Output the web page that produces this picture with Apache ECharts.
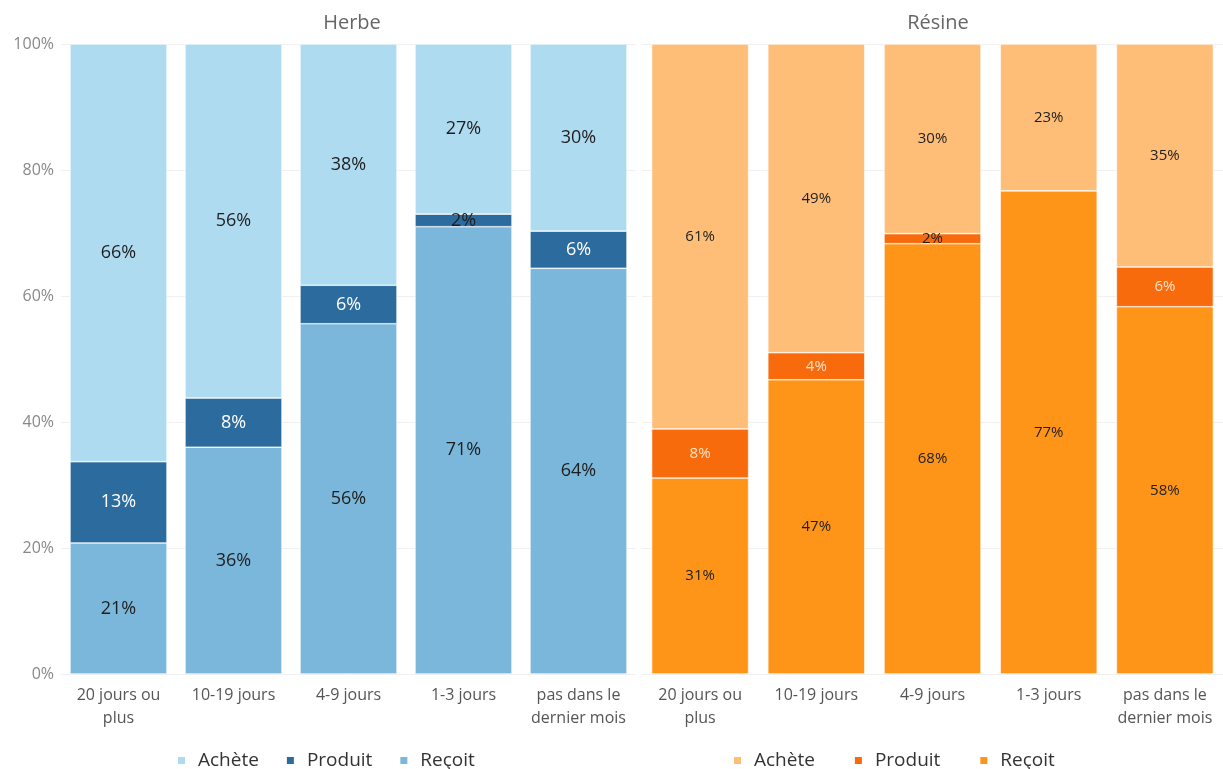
<!DOCTYPE html>
<html><head><meta charset="utf-8">
<script src="https://cdn.jsdelivr.net/npm/echarts@6/dist/echarts.min.js"></script>
<style>html,body{margin:0;padding:0;background:#fff}#c{width:1223px;height:769px}</style>
</head><body><div id="c"></div>
<script>
const categories = ['20 jours ou\nplus', '10-19 jours', '4-9 jours', '1-3 jours', 'pas dans le\ndernier mois'];
const yTicks = [0, 20, 40, 60, 80, 100];
const segments = ['Achète', 'Produit', 'Reçoit'];
// Herbe (cannabis herb)
const herbeRecoit  = [20.8, 36.0, 55.6, 71.0, 64.4];
const herbeProduit = [12.9, 7.8, 6.1, 2.0, 5.9];
const herbeAchete  = [66.3, 56.2, 38.3, 27.0, 29.7];
// Résine (cannabis resin)
const resineRecoit  = [31.1, 46.7, 68.3, 76.7, 58.3];
const resineProduit = [7.8, 4.3, 1.6, 0, 6.3];
const resineAchete  = [61.1, 49.0, 30.1, 23.3, 35.4];

const C = {
  herbe: {Achète: '#aedbf0', Produit: '#2c6b9e', Reçoit: '#7bb7da'},
  resine: {Achète: '#ffbe78', Produit: '#f86b0c', Reçoit: '#ff9518'}
};

function mk(group, seg, vals, gi, fs, lightColor) {
  return {
    name: group + '|' + seg,
    type: 'bar', stack: group, xAxisIndex: gi, yAxisIndex: gi,
    barWidth: 97,
    itemStyle: {color: C[group === 'Herbe' ? 'herbe' : 'resine'][seg], borderColor: '#ffffff', borderWidth: 0.6},
    label: {
      show: true, position: 'inside', fontSize: fs, fontFamily: 'Open Sans',
      color: '#1e1e1e',
      formatter: p => p.value > 0 ? Math.round(p.value) + '%' : ''
    },
    data: vals.map(v => (seg === 'Produit' && v >= 3) ? {value: v, label: {color: lightColor}} : v)
  };
}

const chart = echarts.init(document.getElementById('c'));
const yAxisBase = (gi, show) => ({
  type: 'value', gridIndex: gi, min: yTicks[0], max: yTicks[yTicks.length - 1], interval: 20,
  axisLabel: {show: show, formatter: '{value}%', color: '#888', fontSize: 16, fontFamily: 'Open Sans', margin: 7},
  axisLine: {show: false}, axisTick: {show: false},
  splitLine: {show: true, lineStyle: {color: '#f0f0f0', width: 1}}
});
const xAxisBase = gi => ({
  type: 'category', gridIndex: gi, data: categories,
  axisLine: {show: false}, axisTick: {show: false},
  axisLabel: {color: '#555', fontSize: 16, fontFamily: 'Open Sans', lineHeight: 23, margin: 10, interval: 0}
});
const legendBase = (left, group, gap) => ({
  left: left, top: 746,
  itemWidth: 9, itemHeight: 9, itemGap: gap,
  icon: 'rect',
  textStyle: {fontSize: 19, color: '#333', fontFamily: 'Open Sans', padding: [0, 0, 0, 7]},
  formatter: n => n.split('|')[1],
  data: segments.map(s => group + '|' + s),
  selectedMode: false
});

chart.setOption({
  animation: false,
  title: [
    {text: 'Herbe', left: 347, top: 8, textAlign: 'center', textStyle: {fontSize: 20, fontWeight: 'normal', color: '#666', fontFamily: 'Open Sans'}},
    {text: 'Résine', left: 933, top: 8, textAlign: 'center', textStyle: {fontSize: 20, fontWeight: 'normal', color: '#666', fontFamily: 'Open Sans'}}
  ],
  grid: [
    {left: 61, width: 575, top: 44, bottom: 95},
    {left: 642, width: 585, top: 44, bottom: 95}
  ],
  xAxis: [xAxisBase(0), xAxisBase(1)],
  yAxis: [yAxisBase(0, true), yAxisBase(1, false)],
  legend: [legendBase(171, 'Herbe', 26), legendBase(727, 'Résine', 38)],
  series: [
    mk('Herbe', 'Reçoit', herbeRecoit, 0, 18, '#ffffff'),
    mk('Herbe', 'Produit', herbeProduit, 0, 18, '#ffffff'),
    mk('Herbe', 'Achète', herbeAchete, 0, 18, '#ffffff'),
    mk('Résine', 'Reçoit', resineRecoit, 1, 15, '#ffe2c6'),
    mk('Résine', 'Produit', resineProduit, 1, 15, '#ffe2c6'),
    mk('Résine', 'Achète', resineAchete, 1, 15, '#ffe2c6')
  ]
});
</script></body></html>
